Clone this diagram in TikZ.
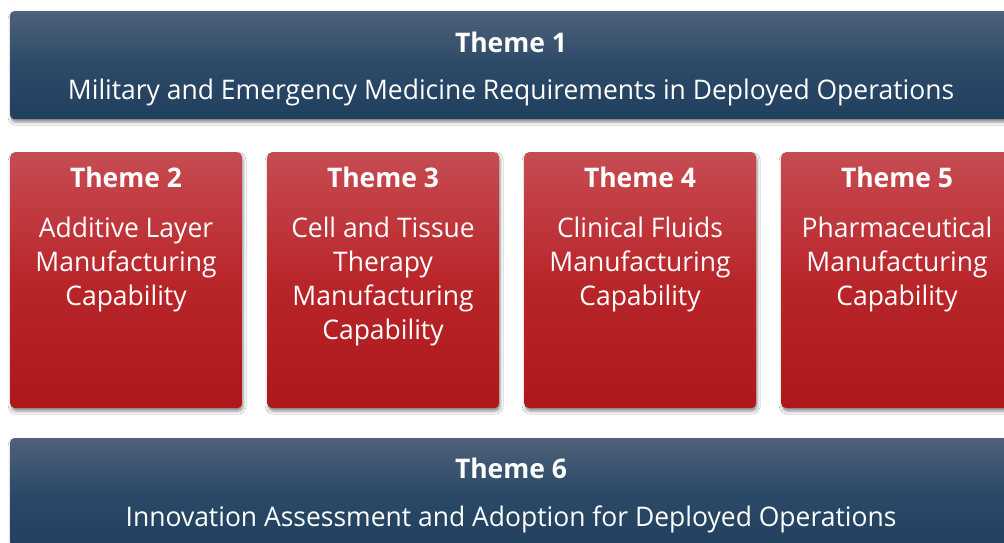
\documentclass[tikz,border=0pt]{standalone}
\usepackage{fontspec}
\setmainfont[FakeStretch=0.98]{Open Sans}
\usetikzlibrary{shadows.blur}
\definecolor{bluetop}{RGB}{80,97,121}
\definecolor{bluemid}{RGB}{44,74,104}
\definecolor{bluebot}{RGB}{33,63,94}
\definecolor{redtop}{RGB}{198,76,82}
\definecolor{redmid}{RGB}{185,38,42}
\definecolor{redbot}{RGB}{172,24,27}
\begin{document}
\begin{tikzpicture}[x=1pt,y=-1pt,
  boxshadow/.style={blur shadow={shadow xshift=1pt,shadow yshift=-3pt,shadow blur radius=3pt,shadow opacity=45}},
  bluebar/.style={draw=none,rounded corners=4pt,top color=bluetop,bottom color=bluebot,middle color=bluemid,boxshadow,
     minimum width=1002pt,minimum height=108pt,anchor=north west,inner sep=0pt},
  redbox/.style={draw=none,rounded corners=5pt,top color=redtop,bottom color=redbot,middle color=redmid,boxshadow,
     minimum width=232pt,minimum height=256pt,anchor=north west,inner sep=0pt},
  ttl/.style={anchor=base,text=white,font=\fontsize{27}{34}\selectfont\bfseries,inner sep=0pt},
  body/.style={anchor=base,text=white,font=\fontsize{27}{34}\selectfont,inner sep=0pt,align=center},
]
\useasboundingbox (0,0) rectangle (1004,542);
\clip (0,0) rectangle (1004,542);
\fill[white] (0,0) rectangle (1004,542);
% top bar
\node[bluebar] (t1) at (10,11) {};
\node[ttl] (t1h) at (511,52) {Theme 1};
\node[body] (t1b) at (511,99.5) {Military and Emergency Medicine Requirements in Deployed Operations};
% red boxes
\node[redbox] (t2) at (10,152) {};
\node[redbox] (t3) at (267,152) {};
\node[redbox] (t4) at (524,152) {};
\node[redbox] (t5) at (781,152) {};
\node[ttl] (t2h) at (126,187) {Theme 2};
\node[ttl] (t3h) at (383,187) {Theme 3};
\node[ttl] (t4h) at (640,187) {Theme 4};
\node[ttl] (t5h) at (897,187) {Theme 5};
% anchor=base of a multi-line node is the baseline of its last line
\node[body] (t2b) at (126,305) {Additive Layer\\Manufacturing\\Capability};
\node[body] (t3b) at (383,339) {Cell and Tissue\\Therapy\\Manufacturing\\Capability};
\node[body] (t4b) at (640,305) {Clinical Fluids\\Manufacturing\\Capability};
\node[body] (t5b) at (897,305) {Pharmaceutical\\Manufacturing\\Capability};
% bottom bar
\node[bluebar] (t6) at (10,438) {};
\node[ttl] (t6h) at (511,478) {Theme 6};
\node[body] (t6b) at (511,526) {Innovation Assessment and Adoption for Deployed Operations};
\end{tikzpicture}
\end{document}
